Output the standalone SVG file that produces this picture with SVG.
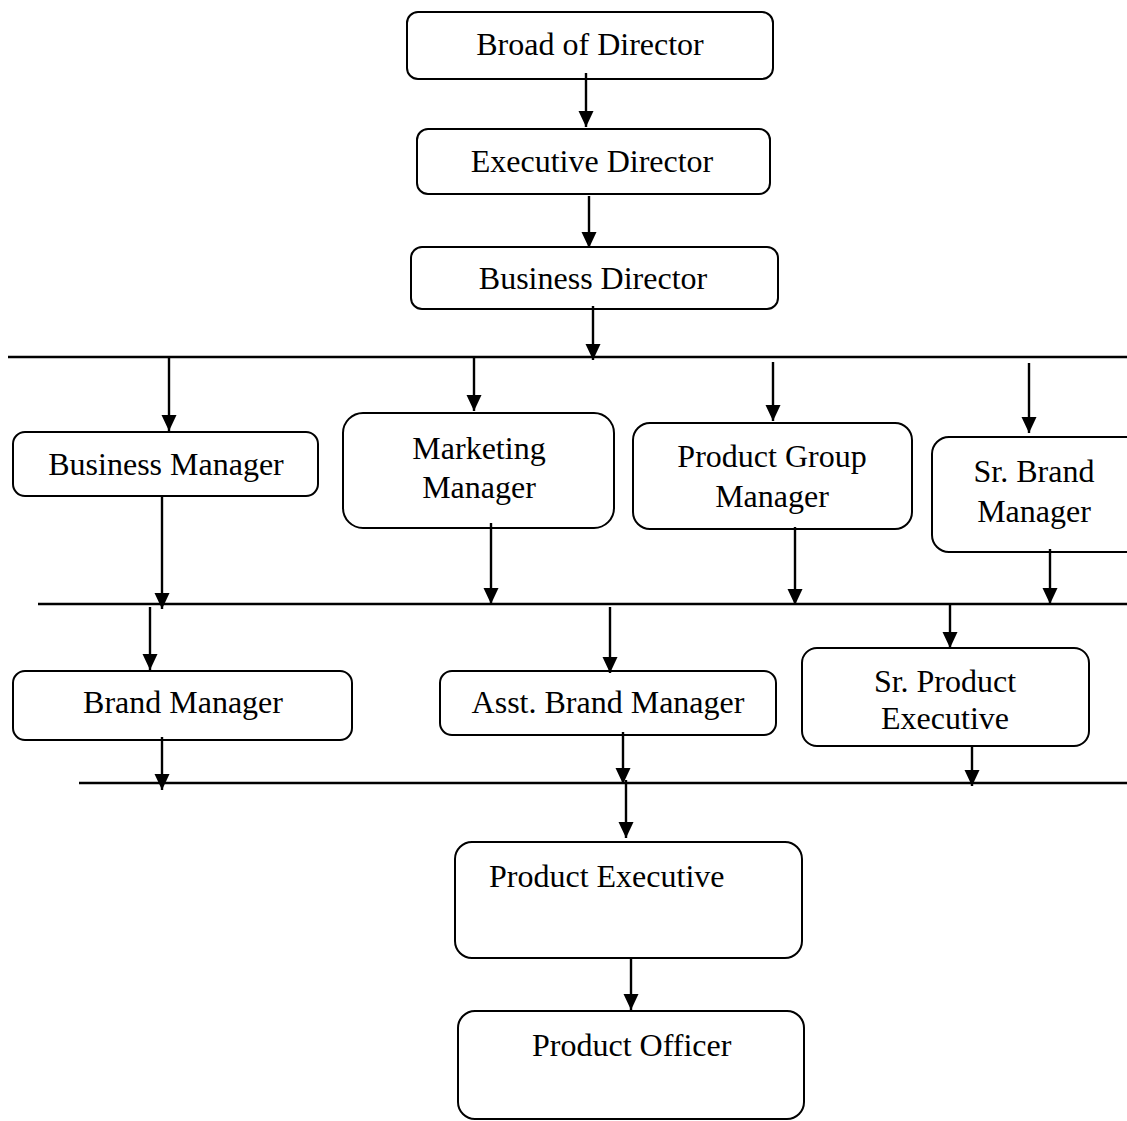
<svg xmlns="http://www.w3.org/2000/svg" width="1127" height="1121" viewBox="0 0 1127 1121">
  <style>
    .box { fill: #fff; stroke: #000; stroke-width: 2; }
    text { font-family: 'Liberation Serif', 'DejaVu Serif', serif; font-size: 32px; fill: #000; }
    .mid { text-anchor: middle; }
    .wire { stroke: #000; stroke-width: 2.4; fill: none; }
    .arr { stroke: #000; stroke-width: 2.4; fill: none; marker-end: url(#head); }
  </style>
  <defs>
    <marker id="head" viewBox="0 -8 16 16" refX="16" refY="0" markerWidth="16" markerHeight="16" markerUnits="userSpaceOnUse" orient="auto">
      <path d="M0,-7.5 L16,0 L0,7.5 z" fill="#000"/>
    </marker>
  </defs>
  <rect width="1127" height="1121" fill="#fff"/>

  <!-- nodes -->
  <g id="board">
    <rect class="box" x="407" y="12" width="366" height="67" rx="11"/>
    <text class="mid" x="590" y="55">Broad of Director</text>
  </g>
  <g id="executive-director">
    <rect class="box" x="417" y="129" width="353" height="65" rx="11"/>
    <text class="mid" x="592" y="172">Executive Director</text>
  </g>
  <g id="business-director">
    <rect class="box" x="411" y="247" width="367" height="62" rx="11"/>
    <text class="mid" x="593" y="289">Business Director</text>
  </g>
  <g id="business-manager">
    <rect class="box" x="13" y="432" width="305" height="64" rx="12"/>
    <text class="mid" x="166" y="475">Business Manager</text>
  </g>
  <g id="marketing-manager">
    <rect class="box" x="343" y="413" width="271" height="115" rx="20"/>
    <text class="mid" x="479" y="459">Marketing</text>
    <text class="mid" x="479" y="498">Manager</text>
  </g>
  <g id="product-group-manager">
    <rect class="box" x="633" y="423" width="279" height="106" rx="17"/>
    <text class="mid" x="772" y="467">Product Group</text>
    <text class="mid" x="772" y="507">Manager</text>
  </g>
  <g id="sr-brand-manager">
    <rect class="box" x="932" y="437" width="210" height="115" rx="17"/>
    <text class="mid" x="1034" y="482">Sr. Brand</text>
    <text class="mid" x="1034" y="522">Manager</text>
  </g>
  <g id="brand-manager">
    <rect class="box" x="13" y="671" width="339" height="69" rx="12"/>
    <text class="mid" x="183" y="713">Brand Manager</text>
  </g>
  <g id="asst-brand-manager">
    <rect class="box" x="440" y="671" width="336" height="64" rx="12"/>
    <text class="mid" x="608" y="713">Asst. Brand Manager</text>
  </g>
  <g id="sr-product-executive">
    <rect class="box" x="802" y="648" width="287" height="98" rx="15"/>
    <text class="mid" x="945" y="692">Sr. Product</text>
    <text class="mid" x="945" y="729">Executive</text>
  </g>
  <g id="product-executive">
    <rect class="box" x="455" y="842" width="347" height="116" rx="17"/>
    <text x="489" y="887">Product Executive</text>
  </g>
  <g id="product-officer">
    <rect class="box" x="458" y="1011" width="346" height="108" rx="17"/>
    <text x="532" y="1056">Product Officer</text>
  </g>

  <!-- connectors -->
  <g id="connectors">
    <line class="wire" x1="8" y1="357" x2="1127" y2="357"/>
    <line class="wire" x1="38" y1="604" x2="1127" y2="604"/>
    <line class="wire" x1="79" y1="783" x2="1127" y2="783"/>

    <line class="arr" x1="586" y1="73" x2="586" y2="127"/>
    <line class="arr" x1="589" y1="196" x2="589" y2="248"/>
    <line class="arr" x1="593" y1="306" x2="593" y2="360"/>

    <line class="arr" x1="169" y1="357" x2="169" y2="431"/>
    <line class="arr" x1="474" y1="357" x2="474" y2="411"/>
    <line class="arr" x1="773" y1="362" x2="773" y2="421"/>
    <line class="arr" x1="1029" y1="363" x2="1029" y2="433"/>

    <line class="arr" x1="162" y1="496" x2="162" y2="609"/>
    <line class="arr" x1="491" y1="523" x2="491" y2="604"/>
    <line class="arr" x1="795" y1="527" x2="795" y2="605"/>
    <line class="arr" x1="1050" y1="549" x2="1050" y2="604"/>

    <line class="arr" x1="150" y1="607" x2="150" y2="670"/>
    <line class="arr" x1="610" y1="607" x2="610" y2="673"/>
    <line class="arr" x1="950" y1="604" x2="950" y2="648"/>

    <line class="arr" x1="162" y1="737" x2="162" y2="790"/>
    <line class="arr" x1="623" y1="732" x2="623" y2="784"/>
    <line class="arr" x1="972" y1="746" x2="972" y2="786"/>

    <line class="arr" x1="626" y1="780" x2="626" y2="838"/>
    <line class="arr" x1="631" y1="957" x2="631" y2="1010"/>
  </g>
</svg>
